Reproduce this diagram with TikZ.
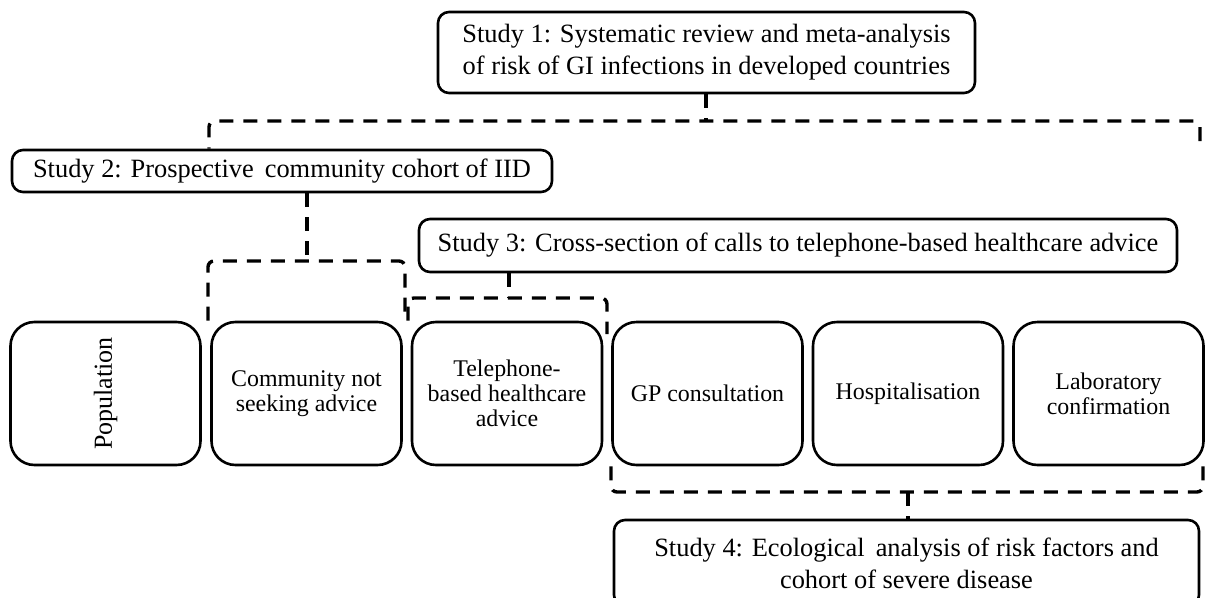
\documentclass[tikz,border=0pt]{standalone}
\usepackage{fontspec}
\setmainfont{Liberation Serif}
\usepackage{graphicx}
\begin{document}
\begin{tikzpicture}[x=1pt,y=-1pt,
  studybox/.style={draw=black, line width=2.6pt, rounded corners=11pt, inner sep=0pt, align=center,
    font=\fontsize{26.4}{32}\selectfont},
  stagebox/.style={draw=black, line width=2.6pt, rounded corners=24pt, inner sep=0pt, align=center,
    minimum width=190pt, minimum height=143pt, font=\fontsize{23.9}{24.8}\selectfont},
  dsh/.style={draw=black, line width=3.4pt, dash pattern=on 14pt off 10pt, rounded corners=6pt}]
\useasboundingbox (0,0) rectangle (1214,597);
\clip (0,0) rectangle (1214,597);

% study boxes
\node[studybox, minimum width=537pt, minimum height=81pt] (s1) at (706.5,52.5)
  {Study 1: Systematic review and meta-analysis\\of risk of GI infections in developed countries};
\node[studybox, minimum width=540pt, minimum height=42pt] (s2) at (282,171)
  {Study 2: Prospective\, community cohort of IID};
\node[studybox, minimum width=758pt, minimum height=53pt] (s3) at (798,245.5)
  {Study 3: Cross-section of calls to telephone-based healthcare advice};
\node[studybox, minimum width=585pt, minimum height=86pt] (s4) at (906.5,563)
  {Study 4: Ecological\, analysis of risk factors and\\cohort of severe disease};

% stage boxes
\node[stagebox] (pop)  at (105.5,393.5) {\fontsize{26}{28}\selectfont\rotatebox{90}{Population}};
\node[stagebox] (comm) at (306.5,393.5) {Community not\\seeking advice};
\node[stagebox] (tel)  at (507,393.5)  {Telephone-\\based healthcare\\advice};
\node[stagebox] (gp)   at (707.5,393.5) {GP consultation};
\node[stagebox] (hosp) at (908,393.5)  {Hospitalisation\vphantom{p}};
\node[stagebox] (lab)  at (1108.5,393.5) {Laboratory\\confirmation};

% Study 1 bracket
\coordinate (j1) at (706,121);
\coordinate (l1) at (209,121);
\coordinate (r1) at (1200,121);
\coordinate (r1e) at (1200,141);
\draw[dsh] (s1.south -| j1) -- (j1);
\draw[dsh] (r1e) -- (r1) -- (l1) -- (s2.north -| l1);

% Study 2 bracket
\coordinate (j2) at (307,261);
\coordinate (l2) at (208,261);
\coordinate (r2) at (405,261);
\draw[dsh] (s2.south -| j2) -- (j2);
\draw[dsh] (l2 |- comm.north) -- (l2) -- (r2) -- (r2 |- comm.north);

% Study 3 bracket
\coordinate (j3) at (509,298);
\coordinate (l3) at (408,298);
\coordinate (r3) at (607,298);
\coordinate (r3e) at (607,334);
\draw[dsh] (s3.south -| j3) -- (j3);
\draw[dsh] (l3 |- tel.north) -- (l3) -- (r3) -- (r3e);

% Study 4 bracket
\coordinate (j4) at (908,492);
\coordinate (l4) at (611,492);
\coordinate (r4) at (1203,492);
\draw[dsh] (l4 |- gp.south) -- (l4) -- (r4) -- (r4 |- lab.south);
\draw[dsh] (j4) -- (s4.north -| j4);
\end{tikzpicture}
\end{document}
